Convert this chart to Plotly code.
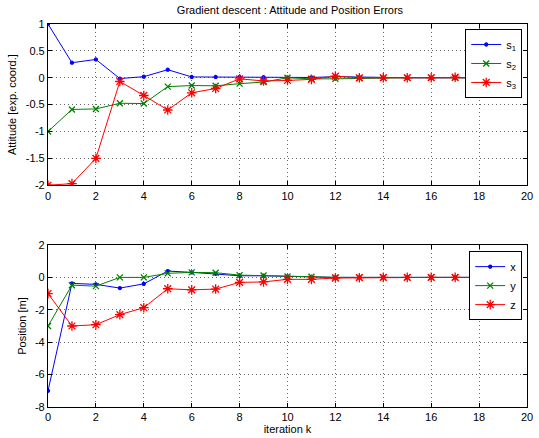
import plotly.graph_objects as go

# iteration index
k = list(range(20))

# attitude errors (exponential coordinates)
s1 = [1.0, 0.28, 0.34, -0.015, 0.02, 0.15, 0.015, 0.015, 0.015, 0.01, 0.005, 0.005, 0.02, 0.01, 0.005, 0.0, 0.0, 0.0, 0.0, 0.0]
s2 = [-1.0, -0.59, -0.58, -0.475, -0.48, -0.165, -0.145, -0.15, -0.11, -0.08, 0.0, -0.02, -0.02, -0.01, -0.005, 0.0, 0.0, 0.0, 0.0, 0.0]
s3 = [-2.0, -1.97, -1.5, -0.07, -0.33, -0.6, -0.28, -0.2, -0.02, -0.06, -0.05, -0.03, 0.03, 0.0, 0.0, 0.0, 0.0, 0.01, 0.0, 0.0]

# position errors [m]
px = [-7.0, -0.37, -0.43, -0.66, -0.4, 0.39, 0.31, 0.22, 0.1, 0.1, 0.06, 0.02, 0.0, 0.0, 0.0, 0.0, 0.0, 0.0, 0.0, 0.0]
py = [-3.0, -0.48, -0.54, 0.0, 0.0, 0.25, 0.31, 0.29, 0.14, 0.12, 0.06, 0.04, 0.0, 0.0, 0.0, 0.0, 0.0, 0.0, 0.0, 0.0]
pz = [-1.0, -3.0, -2.92, -2.3, -1.87, -0.7, -0.77, -0.72, -0.31, -0.28, -0.12, -0.12, -0.04, -0.02, 0.0, 0.0, 0.0, 0.0, 0.0, 0.0]

x_ticks = list(range(0, 21, 2))
att_ticks = [1, 0.5, 0, -0.5, -1, -1.5, -2]
att_labels = ["1", "0.5", "0", "-0.5", "-1", "-1.5", "-2"]
pos_ticks = [2, 0, -2, -4, -6, -8]
pos_labels = ["2", "0", "-2", "-4", "-6", "-8"]

BLUE = "rgb(0,0,255)"
GREEN = "rgb(0,128,0)"
RED = "rgb(255,0,0)"
FONT = "Liberation Sans, Arial, Helvetica, sans-serif"

fig = go.Figure()


def add(y, name, color, symbol, size, xa, ya, legend):
    fig.add_trace(go.Scatter(
        x=k, y=y, name=name, mode="lines+markers",
        line=dict(color=color, width=1),
        marker=dict(symbol=symbol, size=size, color=color,
                    line=dict(color=color, width=1.3)),
        xaxis=xa, yaxis=ya, legend=legend,
    ))


add(s1, "s<sub>1</sub>", BLUE, "circle", 3, "x", "y", "legend")
add(s2, "s<sub>2</sub>", GREEN, "x-thin-open", 6, "x", "y", "legend")
add(s3, "s<sub>3</sub>", RED, "asterisk-open", 8, "x", "y", "legend")
add(px, "x", BLUE, "circle", 3, "x2", "y2", "legend2")
add(py, "y", GREEN, "x-thin-open", 6, "x2", "y2", "legend2")
add(pz, "z", RED, "asterisk-open", 8, "x2", "y2", "legend2")

axis_common = dict(
    showline=True, linecolor="black", linewidth=1.2, mirror="allticks",
    ticks="inside", ticklen=4, tickcolor="black",
    showgrid=True, gridcolor="#666", griddash="1px,3px", gridwidth=1,
    zeroline=False, tickfont=dict(family=FONT, size=11, color="black"),
    ticklabeloverflow="allow",
)

fig.update_layout(
    width=539, height=438,
    margin=dict(l=48, r=6, t=24, b=31),
    paper_bgcolor="white", plot_bgcolor="white",
    font=dict(family=FONT, size=11, color="black"),
    title=dict(text="Gradient descent : Attitude and Position Errors",
               x=0.538, xanchor="center", y=0.976, yanchor="middle",
               font=dict(family=FONT, size=11, color="black")),
    xaxis=dict(domain=[0, 1], range=[0, 20], tickvals=x_ticks, anchor="y", **axis_common),
    yaxis=dict(domain=[0.579, 1], range=[-2, 1], tickvals=att_ticks, ticktext=att_labels,
               anchor="x",
               title=dict(text="Attitude [exp. coord.]", standoff=6,
                          font=dict(family=FONT, size=11)),
               **axis_common),
    xaxis2=dict(domain=[0, 1], range=[0, 20], tickvals=x_ticks, anchor="y2",
                title=dict(text="iteration k", standoff=1,
                           font=dict(family=FONT, size=11)),
                **axis_common),
    yaxis2=dict(domain=[0, 0.423], range=[-8, 2], tickvals=pos_ticks, ticktext=pos_labels,
                anchor="x2",
                title=dict(text="Position [m]", standoff=6,
                           font=dict(family=FONT, size=11)),
                **axis_common),
    legend=dict(x=0.99, xanchor="right", y=0.987, yanchor="top",
                bgcolor="white", bordercolor="black", borderwidth=1,
                font=dict(family=FONT, size=11), tracegroupgap=0,
                itemwidth=30),
    legend2=dict(x=0.99, xanchor="right", y=0.407, yanchor="top",
                 bgcolor="white", bordercolor="black", borderwidth=1,
                 font=dict(family=FONT, size=11), tracegroupgap=0,
                 itemwidth=30),
)

fig.write_html("out.html")
